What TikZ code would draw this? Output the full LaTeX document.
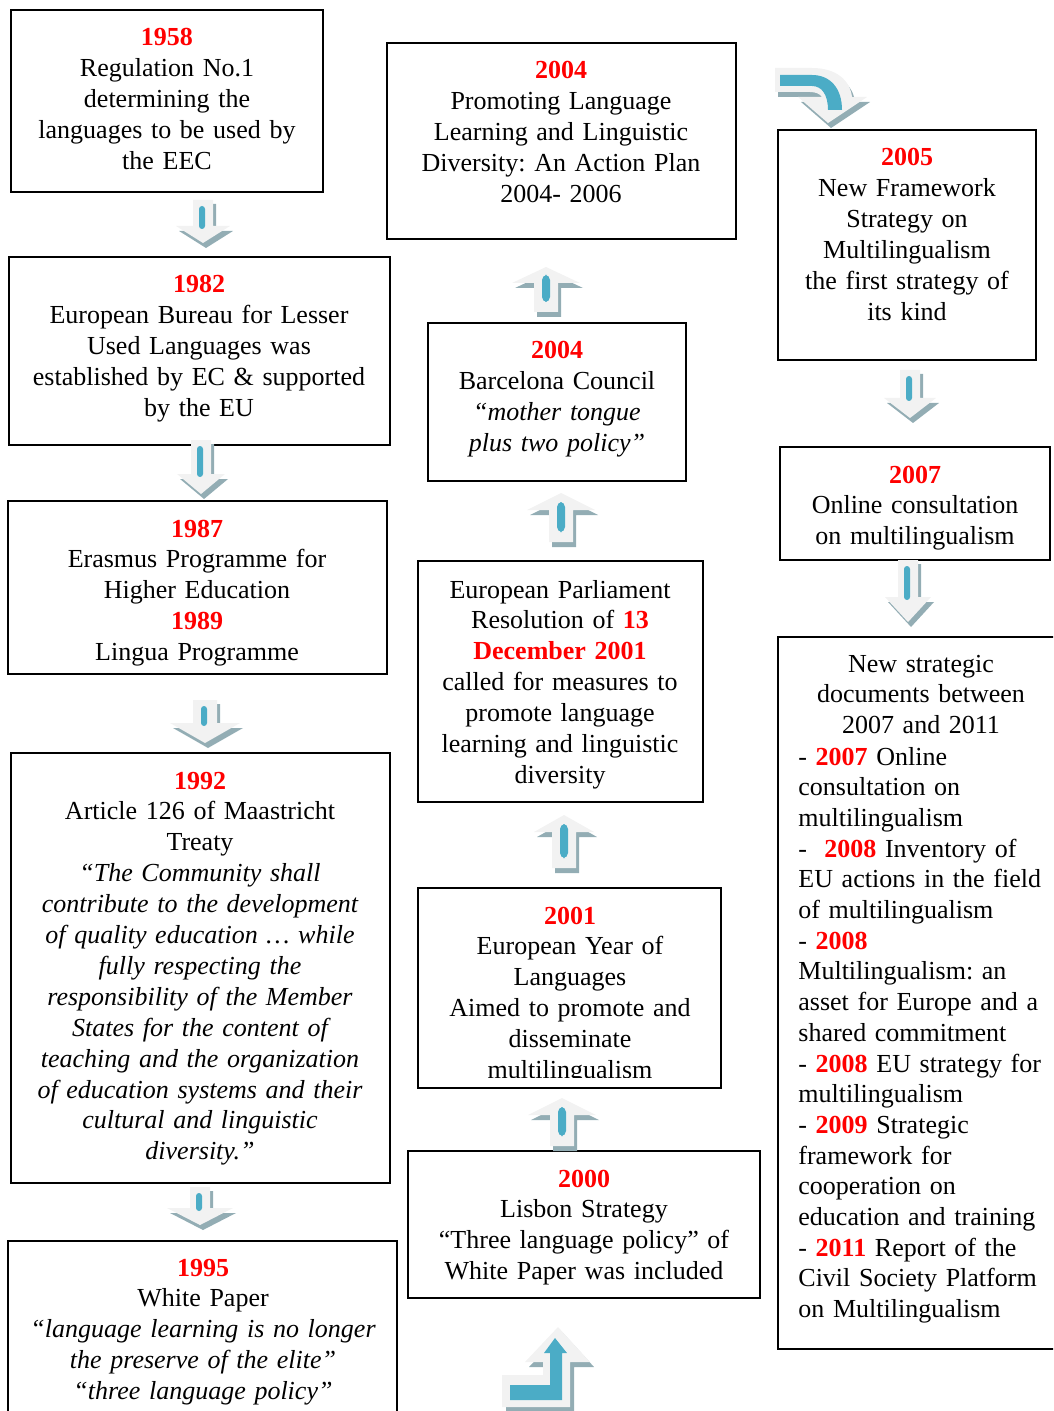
\documentclass[tikz,border=0pt]{standalone}
\usepackage{fontspec}
\setmainfont{Liberation Serif}
\frenchspacing
\definecolor{yr}{RGB}{255,0,0}
\definecolor{lgr}{RGB}{242,242,242}
\definecolor{shd}{RGB}{147,173,180}
\definecolor{abl}{RGB}{75,172,198}
\newcommand\yr[1]{\textcolor{yr}{\textbf{#1}}}
\newcommand\BoxNode[5]{\node[boxst, minimum width={(#4-#2)*0.5pt}, minimum height={(#5-#3)*0.5pt}] (#1) at ({(#2+#4)/2},{(#3+#5)/2}) {};}
% down arrow: cx ytop yhead ytip shaft-half head-half
\newcommand\DArr[6]{%
 \fill[shd] ({#1-#5+3},{#2+4}) -- ({#1+#5+3},{#2+4}) -- ({#1+#5+3},{#3+5}) -- ({#1+#6+3},{#3+5}) -- ({#1+3},{#4+5}) -- ({#1-#6+3},{#3+5}) -- ({#1-#5+3},{#3+5}) -- cycle;
 \fill[lgr] ({#1-#5},#2) -- ({#1+#5},#2) -- ({#1+#5},#3) -- ({#1+#6},#3) -- (#1,#4) -- ({#1-#6},#3) -- ({#1-#5},#3) -- cycle;
 \fill[abl, rounded corners=1.5pt] ({#1-4},{#2+6}) rectangle ({#1+2},{#3+3});
}
% up arrow: cx ytip yhead ybot shaft-half head-half
\newcommand\UArr[6]{%
 \fill[shd] ({#1+3},{#2+5}) -- ({#1+#6+3},{#3+5}) -- ({#1+#5+3},{#3+5}) -- ({#1+#5+3},{#4+5}) -- ({#1-#5+3},{#4+5}) -- ({#1-#5+3},{#3+5}) -- ({#1-#6+3},{#3+5}) -- cycle;
 \fill[lgr] (#1,#2) -- ({#1+#6},#3) -- ({#1+#5},#3) -- ({#1+#5},#4) -- ({#1-#5},#4) -- ({#1-#5},#3) -- ({#1-#6},#3) -- cycle;
 \fill[abl, rounded corners=2.5pt] ({#1-4},{#3-8}) rectangle ({#1+4},{#4-10});
}
\tikzset{
 x=0.5pt, y=-0.5pt,
 boxst/.style={draw, line width=1pt, inner sep=0pt, outer sep=0pt},
 txt/.style={font=\fontsize{13}{15.45}\selectfont, align=center, text width=200pt, inner sep=0pt, anchor=base},
 ltxt/.style={font=\fontsize{13}{15.35}\selectfont, align=left, text width=160pt, inner sep=0pt, anchor=base west},
}
\begin{document}
\begin{tikzpicture}
\useasboundingbox (0,0) rectangle (1053,1411);
\clip (0,0) rectangle (1053,1411);
% boxes
\BoxNode{b1}{11}{10}{323}{192}
\BoxNode{b2}{9}{257}{390}{445}
\BoxNode{b3}{8}{501}{387}{674}
\BoxNode{b4}{11}{753}{390}{1183}
\BoxNode{b5}{8}{1241}{397}{1440}
\BoxNode{b6}{387}{43}{736}{239}
\BoxNode{b7}{428}{323}{686}{481}
\BoxNode{b8}{418}{561}{703}{802}
\BoxNode{b9}{418}{888}{721}{1088}
\BoxNode{b10}{408}{1151}{760}{1298}
\BoxNode{b11}{778}{130}{1036}{360}
\BoxNode{b12}{780}{447}{1050}{560}
\BoxNode{b13}{778}{637}{1070}{1349}
% texts
\node[txt] (t1) at (167,46) {\yr{1958}\\Regulation No.1\\determining the\\languages to be used by\\the EEC};
\node[txt] (t2) at (199,293) {\yr{1982}\\European Bureau for Lesser\\Used Languages was\\established by EC \& supported\\by the EU};
\node[txt] (t3) at (197,537) {\yr{1987}\\Erasmus Programme for\\Higher Education\\\yr{1989}\\Lingua Programme};
\node[txt] (t4) at (200,789) {\yr{1992}\\Article 126 of Maastricht\\Treaty\\{\itshape “The Community shall\\contribute to the development\\of quality education … while\\fully respecting the\\responsibility of the Member\\States for the content of\\teaching and the organization\\of education systems and their\\cultural and linguistic\\diversity.”}};
\node[txt] (t5) at (203,1276) {\yr{1995}\\White Paper\\{\itshape “language learning is no longer\\the preserve of the elite”\\“three language policy”}};
\node[txt] (t6) at (561,79) {\yr{2004}\\Promoting Language\\Learning and Linguistic\\Diversity: An Action Plan\\2004- 2006};
\node[txt] (t7) at (557,359) {\yr{2004}\\Barcelona Council\\{\itshape “mother tongue\\plus two policy”}};
\node[txt] (t8) at (560,598) {European Parliament\\Resolution of \yr{13}\\\yr{December 2001}\\called for measures to\\promote language\\learning and linguistic\\diversity};
\begin{scope}
\clip (420,890) rectangle (719,1077);
\node[txt] (t9) at (570,924) {\yr{2001}\\European Year of\\Languages\\Aimed to promote and\\disseminate\\multilingualism};
\end{scope}
\node[txt] (t10) at (584,1187) {\yr{2000}\\Lisbon Strategy\\“Three language policy” of\\White Paper was included};
\node[txt] (t11) at (907,166) {\yr{2005}\\New Framework\\Strategy on\\Multilingualism\\the first strategy of\\its kind};
\node[txt] (t12) at (915,483) {\yr{2007}\\Online consultation\\on multilingualism};
\node[txt] (t13) at (921,672) {New strategic\\documents between\\2007 and 2011};
\node[ltxt] (t14) at (798,765) {- \yr{2007} Online\\consultation on\\multilingualism\\-~ \yr{2008} Inventory of\\EU actions in the field\\of multilingualism\\- \yr{2008}\\Multilingualism: an\\asset for Europe and a\\shared commitment\\- \yr{2008} EU strategy for\\multilingualism\\- \yr{2009} Strategic\\framework for\\cooperation on\\education and training\\- \yr{2011} Report of the\\Civil Society Platform\\on Multilingualism};
% down arrows
\DArr{203}{200}{226}{243}{10}{27}
\DArr{201}{440}{474}{494}{10}{24}
\DArr{205}{700}{723}{743}{12}{35}
\DArr{200}{1187}{1208}{1225}{10}{33}
\DArr{910}{370}{398}{418}{10}{26}
\DArr{908}{560}{597}{622}{10}{23}
% up arrows
\UArr{546}{267}{283}{312}{12}{34}
\UArr{561}{493}{510}{542}{12}{34}
\UArr{564}{815}{832}{868}{12}{30}
\UArr{562}{1098}{1115}{1146}{12}{34}
% curved arrow (top right)
\fill[shd, shift={(3,5)}] (775,68) -- (812,68) .. controls (836,68) and (850,80) .. (852,97) -- (867,97) -- (828,123) -- (798,97) -- (822,97) .. controls (820,94) and (816,92) .. (810,92) -- (775,92) -- cycle;
\fill[lgr] (775,68) -- (812,68) .. controls (836,68) and (850,80) .. (852,97) -- (867,97) -- (828,123) -- (798,97) -- (822,97) .. controls (820,94) and (816,92) .. (810,92) -- (775,92) -- cycle;
\fill[abl] (780,75) -- (812,75) .. controls (830,75) and (842,88) .. (842,110) -- (828,110) .. controls (828,95) and (822,86) .. (812,86) -- (780,86) -- cycle;
% bent arrow (bottom)
\fill[shd, shift={(4,5)}] (558,1327) -- (590,1362) -- (570,1362) -- (570,1407) -- (502,1407) -- (502,1375) -- (543,1375) -- (543,1362) -- (525,1362) -- cycle;
\fill[lgr] (558,1327) -- (590,1362) -- (570,1362) -- (570,1407) -- (502,1407) -- (502,1375) -- (543,1375) -- (543,1362) -- (525,1362) -- cycle;
\fill[abl] (555,1338) -- (567,1353) -- (562,1353) -- (562,1400) -- (510,1400) -- (510,1385) -- (550,1385) -- (550,1353) -- (544,1353) -- cycle;
\end{tikzpicture}
\end{document}
